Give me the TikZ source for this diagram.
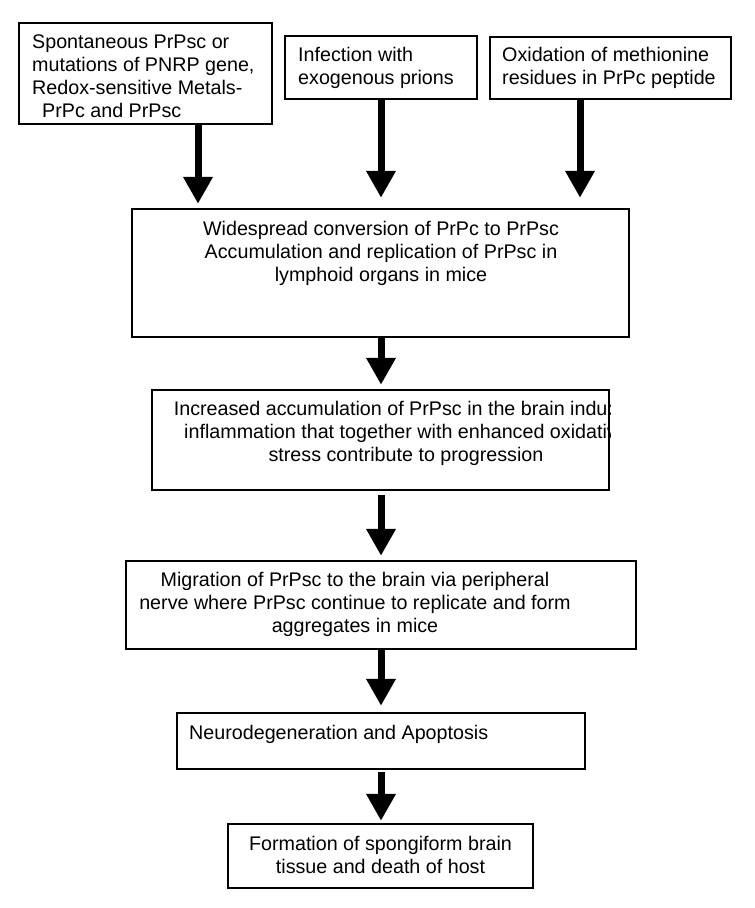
\documentclass[tikz,border=0pt]{standalone}
\usepackage{fontspec}
\setmainfont{Liberation Sans}
\usetikzlibrary{arrows.meta}
\begin{document}
\begin{tikzpicture}[x=1pt,y=-1pt,
  box/.style={draw=black, line width=2.4pt, fill=none, inner sep=0pt, rectangle},
  txt/.style={inner sep=0pt, font=\fontsize{19.7}{23}\selectfont},
  arr/.style={line width=7pt, draw=black, -{Triangle[width=28pt,length=27pt]}}]
\useasboundingbox (0,0) rectangle (755,908);
\fill[white] (0,0) rectangle (755,908);
% boxes
\node[box, minimum width=253pt, minimum height=101pt] (b1) at (145.5,73.5) {};
\node[box, minimum width=192pt, minimum height=63pt] (b2) at (381,67.5) {};
\node[box, minimum width=241pt, minimum height=62pt] (b3) at (610.5,68) {};
\node[box, minimum width=497pt, minimum height=128pt] (b4) at (380.5,273) {};
\node[box, minimum width=457pt, minimum height=100pt] (b5) at (380.5,440) {};
\node[box, minimum width=510pt, minimum height=88pt] (b6) at (381,605) {};
\node[box, minimum width=408pt, minimum height=56pt] (b7) at (381,741) {};
\node[box, minimum width=305pt, minimum height=64pt] (b8) at (380.5,856) {};
% texts (base anchor = baseline of the last line)
\node[txt, anchor=base west, align=left] (t1) at (32,117) {Spontaneous PrPsc or\\mutations of PNRP gene,\\Redox-sensitive Metals-\\\hspace*{10pt}PrPc and PrPsc};
\node[txt, anchor=base west, align=left] (t2) at (298,84) {Infection with\\exogenous prions};
\node[txt, anchor=base west, align=left] (t3) at (502,84) {Oxidation of methionine\\residues in PrPc peptide};
\node[txt, anchor=base, align=center] (t4) at (381,281) {Widespread conversion of PrPc to PrPsc\\Accumulation and replication of PrPsc in\\lymphoid organs in mice};
\begin{scope}
\clip (b5.north west) rectangle (b5.south east);
\node[txt, anchor=base, align=center] (t5) at (406,461) {Increased accumulation of PrPsc in the brain induces\\inflammation that together with enhanced oxidative\\stress contribute to progression};
\end{scope}
\node[txt, anchor=base, align=center] (t6) at (355,632) {Migration of PrPsc to the brain via peripheral\\nerve where PrPsc continue to replicate and form\\aggregates in mice};
\node[txt, anchor=base west] (t7) at (189,739) {Neurodegeneration and Apoptosis};
\node[txt, anchor=base, align=center] (t8) at (380.5,873) {Formation of spongiform brain\\tissue and death of host};
% arrow columns
\coordinate (xa) at (198,0);
\coordinate (xb) at (381,0);
\coordinate (xc) at (580,0);
\draw[arr, shorten >=4pt] (b1.south -| xa) -- (b4.north -| xa);
\draw[arr, shorten >=10pt] (b2.south -| xb) -- (b4.north -| xb);
\draw[arr, shorten >=10pt] (b3.south -| xc) -- (b4.north -| xc);
\draw[arr, shorten >=4pt] (b4.south -| xb) -- (b5.north -| xb);
\draw[arr, shorten <=4pt, shorten >=4pt] (b5.south -| xb) -- (b6.north -| xb);
\draw[arr, shorten >=6pt] (b6.south -| xb) -- (b7.north -| xb);
\draw[arr, shorten <=2pt, shorten >=2pt] (b7.south -| xb) -- (b8.north -| xb);
\end{tikzpicture}
\end{document}
